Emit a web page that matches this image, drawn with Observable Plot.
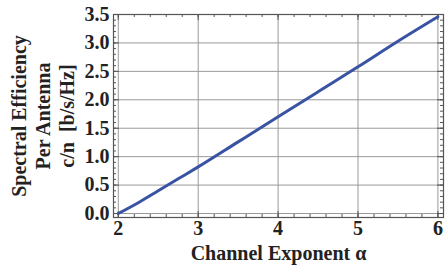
<!DOCTYPE html>
<html>
<head>
<meta charset="utf-8">
<script src="https://cdn.jsdelivr.net/npm/d3@7"></script>
<script src="https://cdn.jsdelivr.net/npm/@observablehq/plot@0.6"></script>
<style>
body { margin: 0; background: #fff; }
</style>
</head>
<body>
<div id="chart"></div>
<script>
const alpha = [2, 2.25, 2.5, 2.75, 3, 3.5, 4, 4.5, 5, 5.5, 6];
const efficiency = [0, 0.19, 0.40, 0.61, 0.82, 1.26, 1.70, 2.14, 2.58, 3.03, 3.46];
const xTicks = [2, 3, 4, 5, 6];
const yTicks = [0, 0.5, 1, 1.5, 2, 2.5, 3, 3.5];
const xMinor = d3.range(2, 6.001, 0.2).map(v => +v.toFixed(1));
const yMinor = d3.range(0, 3.501, 0.1).map(v => +v.toFixed(1));
const xLabel = "Channel Exponent α";
const yLabel = "Spectral Efficiency\nPer Antenna\nc/n\u00a0\u00a0[b/s/Hz]";

const data = alpha.map((a, i) => ({a, e: efficiency[i]}));

const W = 448, H = 266, mt = 14, mb = 49, ml = 113, mr = 5;
const fh = H - mt - mb;
const fw = W - ml - mr;
const frameColor = "#555";

const chart = Plot.plot({
  width: W,
  height: H,
  marginTop: mt,
  marginBottom: mb,
  marginLeft: ml,
  marginRight: mr,
  style: {fontFamily: "Liberation Serif", fontWeight: "bold", fontSize: "20px", color: "#222", background: "#fff"},
  x: {domain: [1.94, 6.07]},
  y: {domain: [-0.07, 3.5]},
  marks: [
    Plot.gridX(xTicks, {stroke: "#999", strokeOpacity: 1, strokeWidth: 1}),
    Plot.gridY(yTicks, {stroke: "#999", strokeOpacity: 1, strokeWidth: 1}),
    Plot.tickX(xMinor, {x: d => d, insetTop: fh - 3, stroke: frameColor}),
    Plot.tickX(xTicks, {x: d => d, insetTop: fh - 6, stroke: frameColor}),
    Plot.tickX(xMinor, {x: d => d, insetBottom: fh - 3, stroke: frameColor}),
    Plot.tickX(xTicks, {x: d => d, insetBottom: fh - 6, stroke: frameColor}),
    Plot.tickY(yMinor, {y: d => d, insetRight: fw - 3, stroke: frameColor}),
    Plot.tickY(yTicks, {y: d => d, insetRight: fw - 6, stroke: frameColor}),
    Plot.tickY(yMinor, {y: d => d, insetLeft: fw - 3, stroke: frameColor}),
    Plot.tickY(yTicks, {y: d => d, insetLeft: fw - 6, stroke: frameColor}),
    Plot.frame({stroke: frameColor, strokeWidth: 1.2}),
    Plot.line(data, {x: "a", y: "e", stroke: "#3953a4", strokeWidth: 3, curve: "monotone-x"}),
    Plot.axisX(xTicks, {tickSize: 0, tickPadding: 3, tickFormat: d3.format("d"), fontSize: 20, label: null}),
    Plot.axisY(yTicks, {tickSize: 0, tickPadding: 4, tickFormat: d3.format(".1f"), fontSize: 20, label: null}),
    Plot.text([xLabel], {frameAnchor: "bottom", dy: 42, fontSize: 20, fill: "#222"}),
    Plot.text([yLabel], {frameAnchor: "left", dx: -71, rotate: -90, textAnchor: "middle", lineAnchor: "middle", fontSize: 20, lineHeight: 1.2, fill: "#222"})
  ]
});
document.getElementById("chart").appendChild(chart);
</script>
</body>
</html>
